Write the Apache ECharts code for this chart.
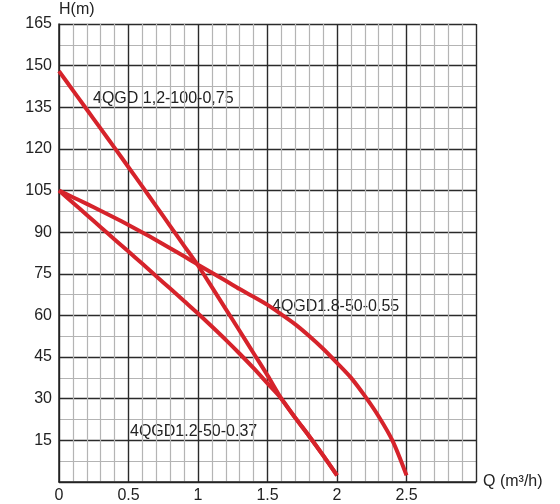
<!DOCTYPE html>
<html>
<head>
<meta charset="utf-8">
<script src="https://cdn.jsdelivr.net/npm/echarts@6/dist/echarts.min.js"></script>
<style>html,body{margin:0;padding:0;background:#fff}#c{width:560px;height:504px}</style>
</head>
<body>
<div id="c"></div>
<script>
// Data (Q in m3/h, H in m)
const qSteps = [0, 0.1, 0.2, 0.3, 0.4, 0.5, 0.6, 0.7, 0.8, 0.9, 1.0, 1.1, 1.2, 1.3, 1.4, 1.5, 1.6, 1.7, 1.8, 1.9, 2.0, 2.1, 2.2, 2.3, 2.4, 2.5];
const hA = [148, 141.1, 134.2, 127.3, 120.4, 113.4, 106.4, 99.3, 92.2, 85.1, 78, 70.2, 62.3, 54.4, 46.4, 38.4, 30.0, 23.1, 16.5, 9.6, 2.4];
const hB = [105, 100.6, 96.2, 91.8, 87.4, 83, 78.6, 74.1, 69.7, 65.2, 60.7, 56, 51.2, 46.2, 41, 35.5, 30.0, 23.1, 16.5, 9.6, 2.4];
const hC = [105, 102.6, 100.2, 97.7, 95.2, 92.6, 89.9, 87.1, 84.2, 81.3, 78.3, 75.4, 72.5, 69.5, 66.7, 63.8, 60.4, 56.8, 52.6, 48.0, 42.9, 37.6, 31.0, 23.6, 14.8, 2.4];
const seriesNames = ['4QGD 1,2-100-0,75', '4QGD1.2-50-0.37', '4QGD1.8-50-0.55'];
const xTickLabels = {0: '0', 0.5: '0.5', 1: '1', 1.5: '1.5', 2: '2', 2.5: '2.5'};
const yTickLabels = [15, 30, 45, 60, 75, 90, 105, 120, 135, 150, 165];

const zip = (q, h) => h.map((v, i) => [q[i], v]);
const axisFont = '"Liberation Sans Narrow", "Liberation Sans", sans-serif';
const red = '#d6232b';

const chart = echarts.init(document.getElementById('c'));
chart.setOption({
  animation: false,
  grid: { left: 59, right: 84, top: 24, bottom: 19, containLabel: false },
  xAxis: {
    type: 'value', min: 0, max: 3, interval: 0.5,
    name: 'Q (m³/h)', nameLocation: 'end', nameGap: 7,
    nameTextStyle: { fontFamily: axisFont, fontSize: 16, color: '#222', verticalAlign: 'middle', padding: [4, 0, 0, 0] },
    axisLine: { show: true, lineStyle: { color: '#222', width: 1.5 } },
    axisTick: { show: false },
    axisLabel: {
      fontFamily: axisFont, fontSize: 16, color: '#222', margin: 6,
      formatter: v => (xTickLabels[v] !== undefined ? xTickLabels[v] : '')
    },
    splitLine: { show: true, lineStyle: { color: '#2a2a2a', width: 1.4 } },
    minorTick: { show: false, splitNumber: 5 },
    minorSplitLine: { show: true, lineStyle: { color: '#b4b4b4', width: 1.2 } }
  },
  yAxis: {
    type: 'value', min: 0, max: 165, interval: 15,
    name: 'H(m)', nameLocation: 'end', nameGap: 6,
    nameTextStyle: { fontFamily: axisFont, fontSize: 16, color: '#222', align: 'left', padding: [0, 0, 0, 0] },
    axisLine: { show: true, lineStyle: { color: '#222', width: 1.5 } },
    axisTick: { show: false },
    axisLabel: {
      fontFamily: axisFont, fontSize: 16, color: '#222', margin: 7,
      formatter: v => (yTickLabels.indexOf(v) >= 0 ? String(v) : '')
    },
    splitLine: { show: true, lineStyle: { color: '#2a2a2a', width: 1.4 } },
    minorTick: { show: false, splitNumber: 2 },
    minorSplitLine: { show: true, lineStyle: { color: '#b4b4b4', width: 1.2 } }
  },
  series: [
    { name: seriesNames[0], type: 'line', data: zip(qSteps, hA), smooth: 0.3, showSymbol: false, lineStyle: { color: red, width: 4 } },
    { name: seriesNames[1], type: 'line', data: zip(qSteps, hB), smooth: 0.3, showSymbol: false, lineStyle: { color: red, width: 4 } },
    { name: seriesNames[2], type: 'line', data: zip(qSteps, hC), smooth: 0.3, showSymbol: false, lineStyle: { color: red, width: 4 } }
  ],
  graphic: [
    { type: 'text', left: 93, top: 91, style: { text: seriesNames[0], font: '16px "Liberation Sans", Arial, sans-serif', fill: '#222' } },
    { type: 'text', left: 272, top: 299, style: { text: seriesNames[2], font: '16px "Liberation Sans", Arial, sans-serif', fill: '#222' } },
    { type: 'text', left: 130, top: 424, style: { text: seriesNames[1], font: '16px "Liberation Sans", Arial, sans-serif', fill: '#222' } }
  ]
});
</script>
</body>
</html>
